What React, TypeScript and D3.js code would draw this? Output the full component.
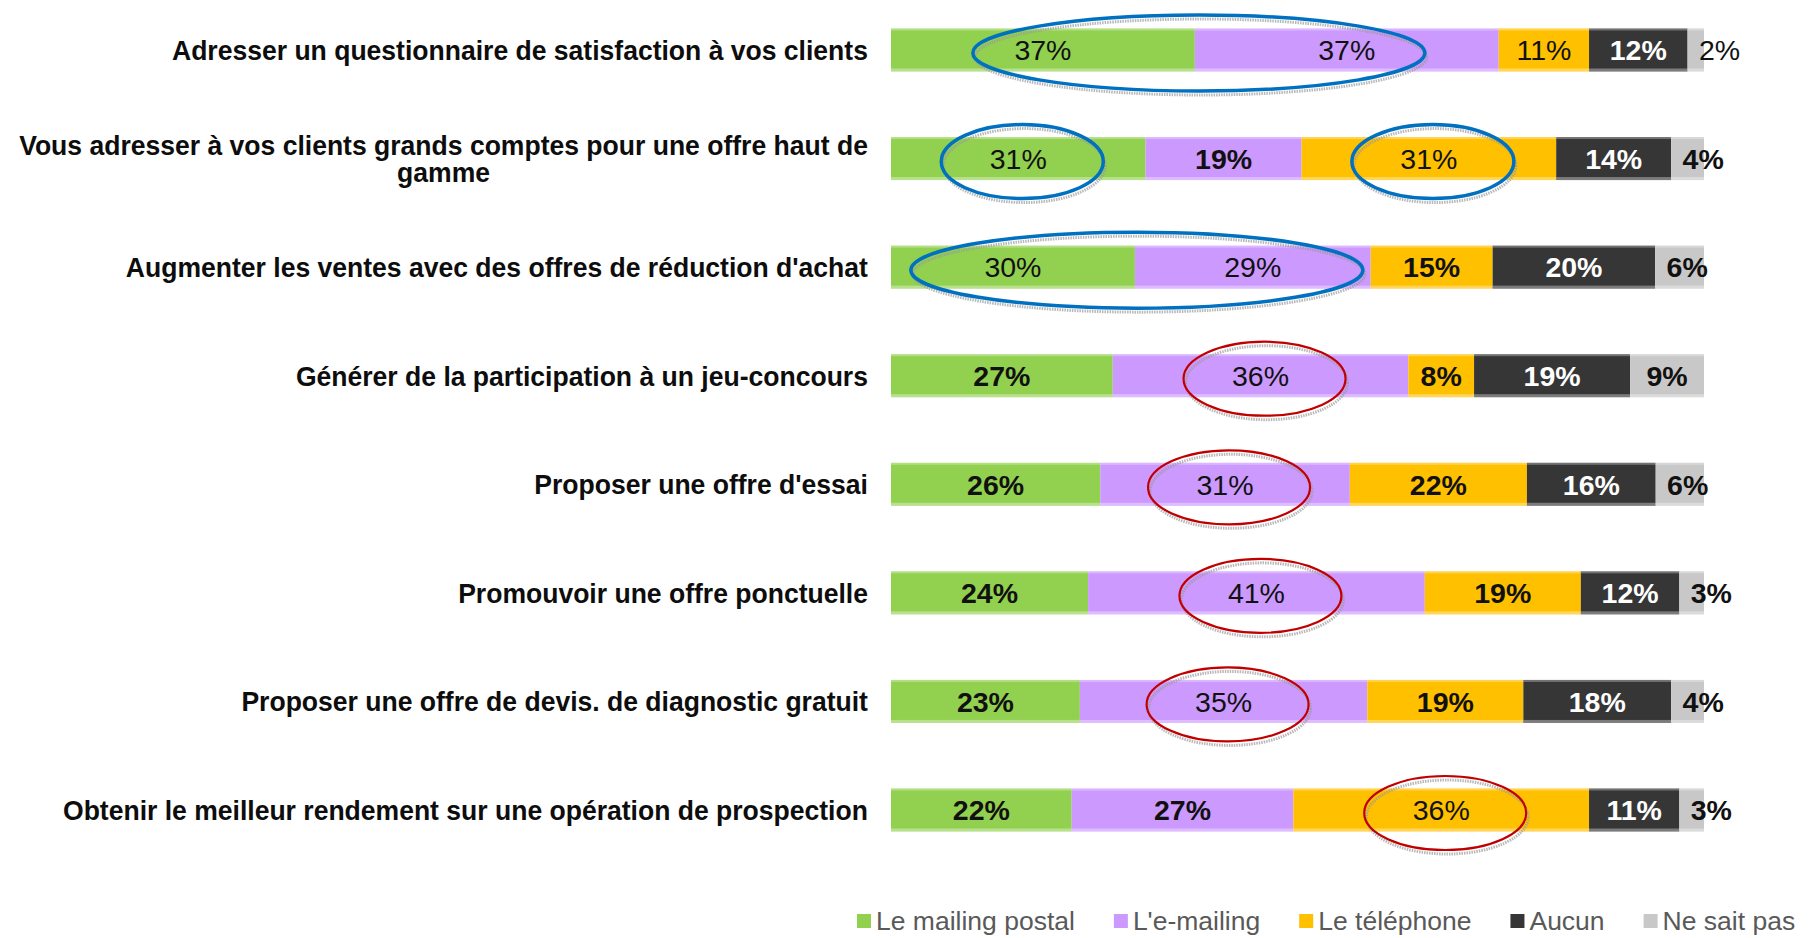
import React, { useEffect, useRef } from "react";
import * as d3 from "d3";

const categories = [
  "Adresser un questionnaire de satisfaction à vos clients",
  "Vous adresser à vos clients grands comptes pour une offre haut de gamme",
  "Augmenter les ventes avec des offres de réduction d'achat",
  "Générer de la participation à un jeu-concours",
  "Proposer une offre d'essai",
  "Promouvoir une offre ponctuelle",
  "Proposer une offre de devis. de diagnostic gratuit",
  "Obtenir le meilleur rendement sur une opération de prospection",
];
const seriesNames = ["Le mailing postal", "L'e-mailing", "Le téléphone", "Aucun", "Ne sait pas"];
const mailingPostal = [37, 31, 30, 27, 26, 24, 23, 22];
const eMailing = [37, 19, 29, 36, 31, 41, 35, 27];
const telephone = [11, 31, 15, 8, 22, 19, 19, 36];
const aucun = [12, 14, 20, 19, 16, 12, 18, 11];
const neSaitPas = [2, 4, 6, 9, 6, 3, 4, 3];
const seriesColors = ["#92D050", "#CC99FF", "#FFC000", "#363636", "#C8C8C8"];
const labelColors = ["#111", "#111", "#111", "#fff", "#111"];
// highlighted segments: row index, series indices, colour of the ring
const highlights = [
  { row: 0, keys: [0, 1], ring: "#0070C0" },
  { row: 1, keys: [0], ring: "#0070C0" },
  { row: 1, keys: [2], ring: "#0070C0" },
  { row: 2, keys: [0, 1], ring: "#0070C0" },
  { row: 3, keys: [1], ring: "#C00000" },
  { row: 4, keys: [1], ring: "#C00000" },
  { row: 5, keys: [1], ring: "#C00000" },
  { row: 6, keys: [1], ring: "#C00000" },
  { row: 7, keys: [2], ring: "#C00000" },
];

const W = 1809;
const H = 938;

export default function App() {
  const ref = useRef<SVGSVGElement>(null);

  useEffect(() => {
    const svg = d3.select(ref.current);
    svg.selectAll("*").remove();
    const font = "'Liberation Sans', Arial, sans-serif";

    const allSeries = [mailingPostal, eMailing, telephone, aucun, neSaitPas];
    const rows = categories.map((c, i) => {
      const o: any = { cat: c };
      allSeries.forEach((s, k) => (o["k" + k] = s[i]));
      return o;
    });
    const keys = seriesNames.map((_, k) => "k" + k);
    const stacked = d3.stack().keys(keys).offset(d3.stackOffsetExpand)(rows);

    const x = d3.scaleLinear().domain([0, 1]).range([891, 1704]);
    const y = d3.scaleBand().domain(categories).range([28.5, 831.5]).paddingInner(0.604).paddingOuter(0);
    const bw = y.bandwidth();

    const hlSet = new Set(highlights.flatMap((h) => h.keys.map((k) => h.row + "-" + k)));

    // bars
    const gBars = svg.append("g");
    stacked.forEach((layer, k) => {
      const g = gBars.append("g");
      layer.forEach((d, i) => {
        const yy = y(categories[i])!;
        const x0 = x(d[0]);
        const w = x(d[1]) - x(d[0]);
        g.append("rect").attr("x", x0).attr("y", yy).attr("width", w).attr("height", bw).attr("fill", seriesColors[k]);
        g.append("rect").attr("x", x0).attr("y", yy).attr("width", w).attr("height", 2).attr("fill", "#fff").attr("opacity", 0.3);
        g.append("rect").attr("x", x0).attr("y", yy + bw - 3).attr("width", w).attr("height", 3).attr("fill", "#fff").attr("opacity", 0.35);
      });
    });

    const labelX = (k: number, i: number) => {
      const d = stacked[k][i];
      const mid = (x(d[0]) + x(d[1])) / 2;
      if (k === keys.length - 1) return Math.max(mid, x(d[0]) + 32);
      return mid;
    };

    // ellipses (behind labels)
    const gRings = svg.append("g");
    highlights.forEach((h) => {
      const cs = h.keys.map((k) => labelX(k, h.row));
      const cx = d3.mean(cs)! + 4;
      const cy = y(categories[h.row])! + bw / 2 + 3;
      const rx = h.keys.length > 1 ? 226 : 81;
      const ry = h.keys.length > 1 ? 38 : 37;
      gRings.append("ellipse").attr("cx", cx + 2).attr("cy", cy + 4).attr("rx", rx).attr("ry", ry)
        .attr("fill", "none").attr("stroke", "#9a9a9a").attr("stroke-width", 3).attr("stroke-dasharray", "1.5 1").attr("opacity", 0.7);
      gRings.append("ellipse").attr("cx", cx).attr("cy", cy).attr("rx", rx).attr("ry", ry)
        .attr("fill", "none").attr("stroke", h.ring).attr("stroke-width", h.ring === "#0070C0" ? 3.5 : 2.2);
    });

    // value labels
    const gLab = svg.append("g").attr("font-family", font).attr("font-size", 28.5);
    stacked.forEach((layer, k) => {
      layer.forEach((d, i) => {
        const v = allSeries[k][i];
        const hl = hlSet.has(i + "-" + k);
        gLab.append("text")
          .attr("x", labelX(k, i))
          .attr("y", y(categories[i])! + bw / 2)
          .attr("dy", "0.36em")
          .attr("text-anchor", "middle")
          .attr("fill", labelColors[k])
          .attr("font-weight", hl || (i === 0 && k !== 3) ? "normal" : "bold")
          .text(v + "%");
      });
    });

    // category labels (right aligned block, lines centred)
    const sx = 0.965;
    const gCat = svg.append("g").attr("font-family", font).attr("font-size", 27.5).attr("font-weight", "bold").attr("fill", "#0d0d0d");
    const maxW = 900;
    const lineH = 27.5;
    categories.forEach((c) => {
      const words = c.split(" ");
      const lines: string[] = [];
      let cur = "";
      const probe = gCat.append("text");
      words.forEach((w) => {
        const trial = cur ? cur + " " + w : w;
        probe.text(trial);
        if ((probe.node() as SVGTextElement).getComputedTextLength() > maxW && cur) {
          lines.push(cur);
          cur = w;
        } else cur = trial;
      });
      lines.push(cur);
      const widths = lines.map((l) => {
        probe.text(l);
        return (probe.node() as SVGTextElement).getComputedTextLength();
      });
      probe.remove();
      const bwid = Math.max(...widths);
      const cy = y(c)! + bw / 2 - ((lines.length - 1) * lineH) / 2;
      const t = gCat.append("text").attr("text-anchor", "middle")
        .attr("transform", `translate(868,0) scale(${sx},1)`);
      lines.forEach((l, j) => {
        t.append("tspan").attr("x", -bwid / 2).attr("y", cy + j * lineH).attr("dy", "0.36em").text(l);
      });
    });

    // legend
    const gLeg = svg.append("g").attr("font-family", font).attr("font-size", 26.5).attr("fill", "#595959");
    let lx = 857;
    const ly = 920;
    seriesNames.forEach((s, k) => {
      gLeg.append("rect").attr("x", lx).attr("y", ly - 6).attr("width", 14).attr("height", 14).attr("fill", seriesColors[k]);
      const t = gLeg.append("text").attr("x", lx + 19).attr("y", ly).attr("dy", "0.36em").text(s);
      const tw = (t.node() as SVGTextElement).getComputedTextLength();
      lx += 19 + tw + 39;
    });
  }, []);

  return (
    <svg
      ref={ref}
      width={W}
      height={H}
      style={{ position: "absolute", left: 0, top: 0, display: "block", background: "#fff" }}
    />
  );
}
